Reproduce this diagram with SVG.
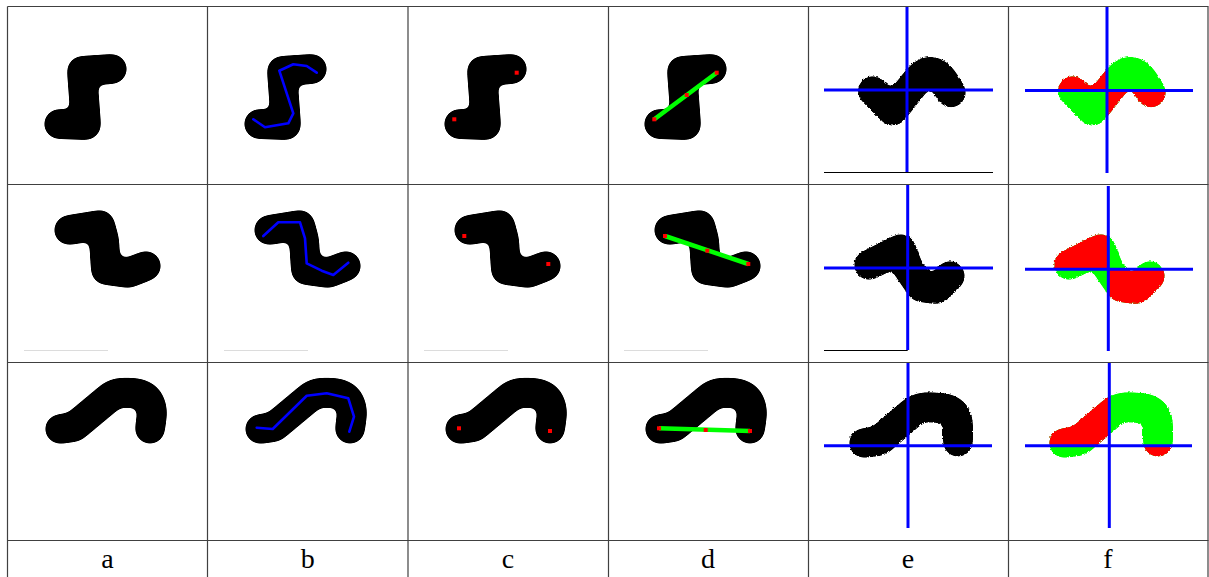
<svg xmlns="http://www.w3.org/2000/svg" width="1209" height="577" viewBox="0 0 1209 577">
<style>
.grid{stroke:#404040;stroke-width:1.2;fill:none}
.worm{fill:none;stroke-width:30;stroke-linecap:round;stroke-linejoin:round;filter:url(#sm)}
.wormE{fill:none;stroke-width:30;stroke-linecap:round;stroke-linejoin:round;filter:url(#rough)}
.skel{fill:none;stroke:#0000ff;stroke-width:2.6;stroke-linejoin:round;stroke-linecap:round}
.axis{stroke:#0000ff;stroke-width:3}
.dot{fill:#ff0000}
.seg{stroke:#00ff00;stroke-width:4.5}
.base{stroke:#000;stroke-width:1.2}
.faint{stroke:#dcdcdc;stroke-width:1}
.lbl{font-family:"Liberation Serif","DejaVu Serif",serif;font-size:28px;text-anchor:middle;fill:#000}
</style>
<defs>
<filter id="sm" filterUnits="userSpaceOnUse" x="-300" y="-100" width="1800" height="800" color-interpolation-filters="sRGB">
<feGaussianBlur stdDeviation="3.5"/>
<feComponentTransfer><feFuncA type="linear" slope="12" intercept="-5.5"/></feComponentTransfer>
</filter>
<filter id="rough" filterUnits="userSpaceOnUse" x="-300" y="-100" width="1800" height="800" color-interpolation-filters="sRGB">
<feGaussianBlur stdDeviation="3.5" result="b"/>
<feComponentTransfer in="b" result="t"><feFuncA type="linear" slope="12" intercept="-5.5"/></feComponentTransfer>
<feTurbulence type="turbulence" baseFrequency="0.45" numOctaves="1" seed="3" result="n"/>
<feDisplacementMap in="t" in2="n" scale="2.5" xChannelSelector="R" yChannelSelector="G"/>
</filter>
<path id="w1" class="worm" d="M59,124 L86,125 L82,71 L112,69"/>
<path id="w2" class="worm" d="M69,230 L100,225 L104,240 L106,270 L128,273 L146,266"/>
<path id="w3" class="worm" d="M60,429 L74,427 L110,397 C118,391 124,393 134,393 C146,394 152,401 152,414 L150,429"/>
<path id="e1" class="wormE" d="M871.7,90 L891.7,110 L916.7,78.3 C922,72 926,70 932,71 C940,73 945,84 950,91.7"/>
<path id="e2" class="wormE" d="M868,264 L900,248 L907,267 L920,286 L936,288 L949,275"/>
<path id="e3" class="wormE" d="M863,442 L878,440 L913,410 C920,405 930,406 940,407 C952,408 957,414 957,425 L957,441"/>
<clipPath id="red1"><rect x="1008" y="7" width="99" height="83.5"/><rect x="1107" y="90.5" width="101" height="93"/></clipPath>
<clipPath id="red2"><rect x="1008" y="185" width="100.3" height="84.3"/><rect x="1108.3" y="269.3" width="100" height="93"/></clipPath>
<clipPath id="red3"><rect x="1008" y="363" width="101.3" height="82.7"/><rect x="1109.3" y="445.7" width="99" height="95"/></clipPath>
</defs>

<g id="grid" class="grid">
<line x1="7.5" y1="6.5" x2="1208.5" y2="6.5"/>
<line x1="7.5" y1="184.5" x2="1208.5" y2="184.5"/>
<line x1="7.5" y1="362.5" x2="1208.5" y2="362.5"/>
<line x1="7.5" y1="540.5" x2="1208.5" y2="540.5"/>
<line x1="7.5" y1="6.5" x2="7.5" y2="577"/>
<line x1="207.5" y1="6.5" x2="207.5" y2="577"/>
<line x1="408" y1="6.5" x2="408" y2="577"/>
<line x1="608.5" y1="6.5" x2="608.5" y2="577"/>
<line x1="808.5" y1="6.5" x2="808.5" y2="577"/>
<line x1="1008.5" y1="6.5" x2="1008.5" y2="577"/>
<line x1="1208" y1="6.5" x2="1208" y2="577"/>
</g>

<g id="col-a">
<use href="#w1" stroke="#000"/>
<use href="#w2" stroke="#000"/>
<use href="#w3" stroke="#000"/>
<line class="faint" x1="24" y1="350.5" x2="108" y2="350.5"/>
</g>

<g id="col-b">
<g transform="translate(200,0)">
<use href="#w1" stroke="#000"/>
<use href="#w2" stroke="#000"/>
<use href="#w3" stroke="#000"/>
</g>
<polyline class="skel" points="253.3,119.3 265,127.3 288.3,123.3 293.3,113.3 279.3,70.7 293.3,64.3 306.7,66 316.7,72.7"/>
<polyline class="skel" points="263.3,236 278.3,222.3 300,222.3 305,238.3 306.7,263.3 321.7,270.7 333.3,275 348.3,262.7"/>
<polyline class="skel" points="256.7,427.7 272.7,429 306.7,395.7 326.7,393.3 348.3,398.3 354,416.7 349.3,431.7"/>
<line class="faint" x1="224" y1="350.5" x2="308" y2="350.5"/>
</g>

<g id="col-c">
<g transform="translate(400,0)">
<use href="#w1" stroke="#000"/>
<use href="#w2" stroke="#000"/>
<use href="#w3" stroke="#000"/>
</g>
<rect class="dot" x="452.3" y="117.3" width="4" height="4"/>
<rect class="dot" x="514.7" y="70.7" width="4" height="4"/>
<rect class="dot" x="462.3" y="234" width="4" height="4"/>
<rect class="dot" x="546.3" y="262" width="4" height="4"/>
<rect class="dot" x="457" y="426.3" width="4" height="4"/>
<rect class="dot" x="548" y="429" width="4" height="4"/>
<line class="faint" x1="424" y1="350.5" x2="508" y2="350.5"/>
</g>

<g id="col-d">
<g transform="translate(600,0)">
<use href="#w1" stroke="#000"/>
<use href="#w2" stroke="#000"/>
<use href="#w3" stroke="#000"/>
</g>
<line class="seg" x1="654.3" y1="119.3" x2="716.7" y2="72.7"/>
<line class="seg" x1="665" y1="236" x2="748.3" y2="264"/>
<line class="seg" x1="659" y1="428.3" x2="750" y2="431"/>
<rect class="dot" x="652.3" y="117.3" width="4" height="4"/>
<rect class="dot" x="684.7" y="93" width="4" height="4"/>
<rect class="dot" x="714.7" y="70.7" width="4" height="4"/>
<rect class="dot" x="663" y="234" width="4" height="4"/>
<rect class="dot" x="705.3" y="248.7" width="4" height="4"/>
<rect class="dot" x="746.3" y="262" width="4" height="4"/>
<rect class="dot" x="657" y="426.3" width="4" height="4"/>
<rect class="dot" x="703.7" y="428" width="4" height="4"/>
<rect class="dot" x="748" y="429" width="4" height="4"/>
<line class="faint" x1="624" y1="350.5" x2="708" y2="350.5"/>
</g>

<g id="col-e">
<use href="#e1" stroke="#000"/>
<use href="#e2" stroke="#000"/>
<use href="#e3" stroke="#000"/>
<line class="axis" x1="907" y1="7" x2="907" y2="172"/>
<line class="axis" x1="824" y1="90" x2="993" y2="90"/>
<line class="base" x1="824" y1="172.5" x2="993" y2="172.5"/>
<line class="axis" x1="907.7" y1="185" x2="907.7" y2="350"/>
<line class="axis" x1="824" y1="268" x2="993" y2="268"/>
<line class="base" x1="824" y1="350.5" x2="907.7" y2="350.5"/>
<line class="axis" x1="908" y1="363" x2="908" y2="528"/>
<line class="axis" x1="824" y1="445.7" x2="992" y2="445.7"/>
</g>

<g id="col-f">
<g transform="translate(200,0)">
<use href="#e1" stroke="#00ff00"/>
<use href="#e2" stroke="#00ff00"/>
<use href="#e3" stroke="#00ff00"/>
</g>
<g clip-path="url(#red1)"><use href="#e1" transform="translate(200,0)" stroke="#ff0000"/></g>
<g clip-path="url(#red2)"><use href="#e2" transform="translate(200,0)" stroke="#ff0000"/></g>
<g clip-path="url(#red3)"><use href="#e3" transform="translate(200,0)" stroke="#ff0000"/></g>
<line class="axis" x1="1107" y1="7" x2="1107" y2="173"/>
<line class="axis" x1="1025" y1="90.5" x2="1193" y2="90.5"/>
<line class="axis" x1="1108.3" y1="186" x2="1108.3" y2="351"/>
<line class="axis" x1="1025" y1="269.3" x2="1193" y2="269.3"/>
<line class="axis" x1="1109.3" y1="363" x2="1109.3" y2="528"/>
<line class="axis" x1="1025" y1="445.7" x2="1192" y2="445.7"/>
</g>

<g id="labels" class="lbl">
<text x="107.5" y="568">a</text>
<text x="307.7" y="568">b</text>
<text x="508" y="568">c</text>
<text x="708" y="568">d</text>
<text x="908" y="568">e</text>
<text x="1108" y="568">f</text>
</g>
</svg>
